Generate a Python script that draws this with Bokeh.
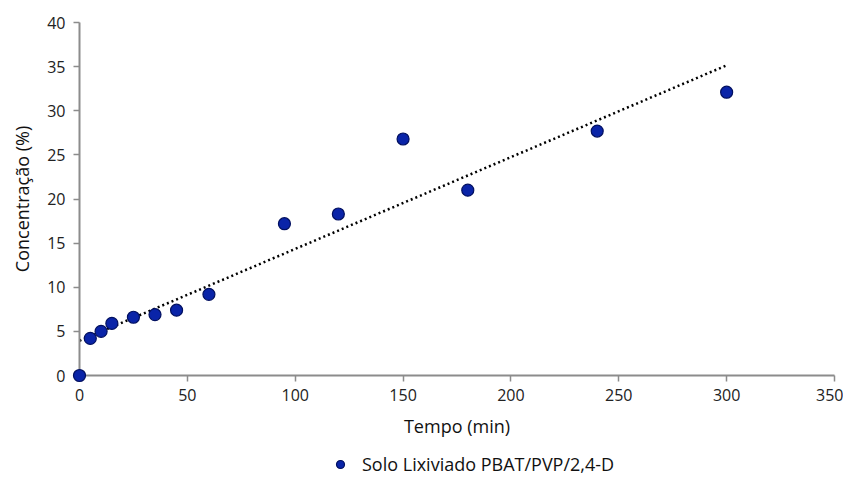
import numpy as np
from bokeh.plotting import figure
from bokeh.layouts import column
from bokeh.models import Range1d, FixedTicker, Legend, LegendItem, ColumnDataSource
from bokeh.embed import file_html
from bokeh.resources import INLINE

tempo = [0, 5, 10, 15, 25, 35, 45, 60, 95, 120, 150, 180, 240, 300]
concentracao = [0.0, 4.2, 5.0, 5.9, 6.6, 6.9, 7.4, 9.2, 17.2, 18.3, 26.8, 21.0, 27.7, 32.1]
x_ticks = [0, 50, 100, 150, 200, 250, 300, 350]
y_ticks = [0, 5, 10, 15, 20, 25, 30, 35, 40]
serie_nome = "Solo Lixiviado PBAT/PVP/2,4-D"

FONT = "Open Sans"
MARKER = dict(size=12, fill_color="#0a24a8", line_color="#021060", line_width=1.2)

p = figure(width=843, height=446, output_backend="svg", toolbar_location=None,
           x_range=Range1d(0, 350), y_range=Range1d(0, 40),
           min_border_left=79, min_border_right=9, min_border_top=22, min_border_bottom=71)
p.outline_line_color = None
p.grid.visible = False

for ax in (p.xaxis[0], p.yaxis[0]):
    ax.axis_line_color = "#8c8c8c"
    ax.axis_line_width = 2
    ax.major_tick_line_color = "#8c8c8c"
    ax.major_tick_line_width = 1.5
    ax.major_tick_out = 6
    ax.major_tick_in = 0
    ax.minor_tick_line_color = None
    ax.major_label_text_font = FONT
    ax.major_label_text_font_size = "16px"
    ax.major_label_text_color = "#222222"
    ax.axis_label_text_font = FONT
    ax.axis_label_text_font_size = "18px"
    ax.axis_label_text_font_style = "normal"
    ax.axis_label_text_color = "#111111"

p.xaxis[0].ticker = FixedTicker(ticks=x_ticks)
p.yaxis[0].ticker = FixedTicker(ticks=y_ticks)
p.xaxis[0].axis_label = "Tempo (min)"
p.yaxis[0].axis_label = "Concentração (%)"
p.xaxis[0].major_label_standoff = 7
p.yaxis[0].major_label_standoff = 8
p.xaxis[0].axis_label_standoff = 10
p.yaxis[0].axis_label_standoff = 10

# linear trend line fitted from the data
slope, intercept = np.polyfit(tempo, concentracao, 1)
xt = [min(tempo), max(tempo)]
yt = [intercept + slope * v for v in xt]
p.line(xt, yt, line_color="black", line_width=2.5, line_dash="2 3")

src = ColumnDataSource(dict(x=tempo, y=concentracao))
p.scatter("x", "y", source=src, level="overlay", **MARKER)

# legend strip below the chart (its renderer's points lie outside its view)
leg = figure(width=843, height=31, output_backend="svg", toolbar_location=None,
             x_range=Range1d(1000, 1001), y_range=Range1d(1000, 1001),
             x_axis_location=None, y_axis_location=None,
             min_border=0, min_border_left=0, min_border_right=0,
             min_border_top=0, min_border_bottom=0)
leg.outline_line_color = None
leg.grid.visible = False
lr = leg.scatter("x", "y", source=src, **MARKER)
legend = Legend(items=[LegendItem(label=serie_nome, renderers=[lr])],
                orientation="horizontal", location=(251, 1),
                label_text_font=FONT, label_text_font_size="18px",
                label_text_color="#111111", border_line_color=None,
                background_fill_alpha=0, glyph_width=20, glyph_height=20,
                label_height=20, label_standoff=12,
                padding=0, margin=0, spacing=0)
leg.add_layout(legend)

layout = column(p, leg, spacing=0)
open("out.html", "w").write(file_html(layout, INLINE))
